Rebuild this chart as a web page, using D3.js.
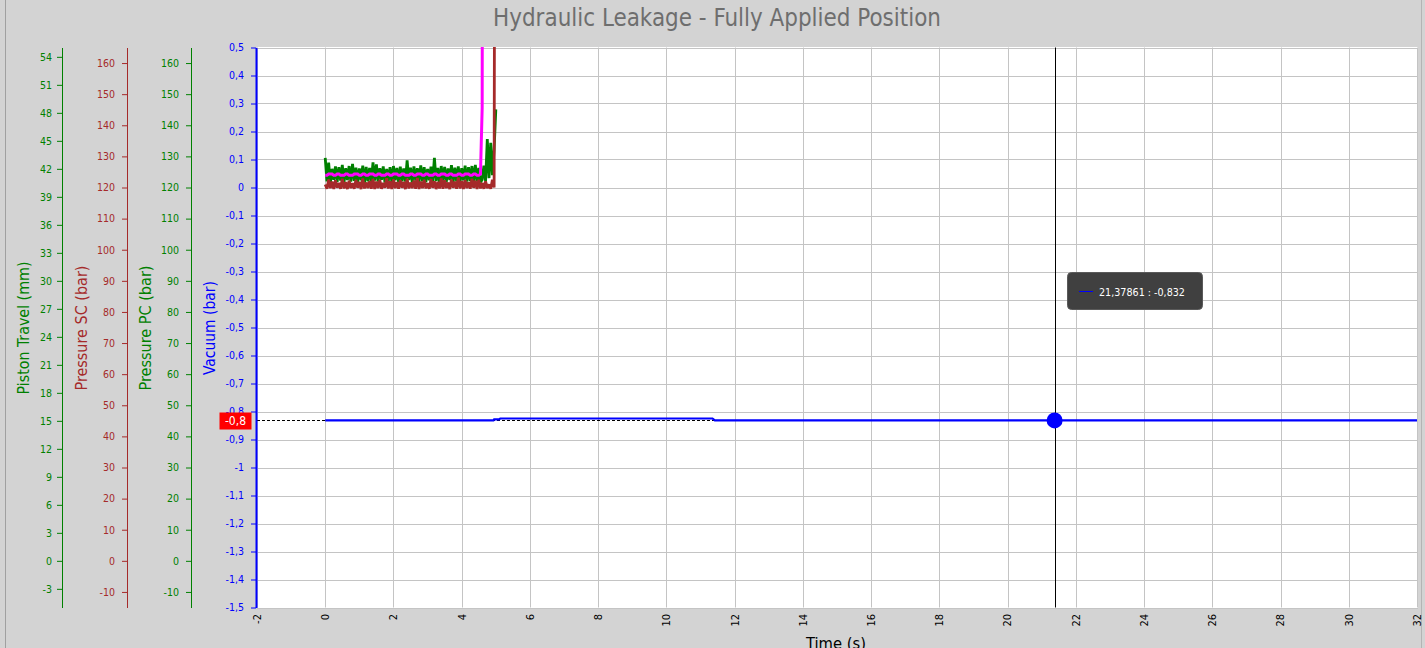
<!DOCTYPE html>
<html><head><meta charset="utf-8">
<script src="https://cdn.jsdelivr.net/npm/d3@7"></script>
<style>
html,body{margin:0;padding:0;background:#d3d3d3;overflow:hidden;}
svg{display:block;}
text{font-family:"DejaVu Sans Condensed","DejaVu Sans",sans-serif;font-stretch:condensed;}
</style></head><body>
<svg id="c" width="1425" height="648"></svg>
<script>
// ---------------- DATA ----------------
const chartTitle = "Hydraulic Leakage - Fully Applied Position";
const xTitle = "Time (s)";
const xTickValues = [-2,0,2,4,6,8,10,12,14,16,18,20,22,24,26,28,30,32];
const vacuumTickValues = [0.5,0.4,0.3,0.2,0.1,0,-0.1,-0.2,-0.3,-0.4,-0.5,-0.6,-0.7,-0.8,-0.9,-1,-1.1,-1.2,-1.3,-1.4,-1.5];
const pressureTickValues = [-10,0,10,20,30,40,50,60,70,80,90,100,110,120,130,140,150,160];
const pistonTickValues = [-3,0,3,6,9,12,15,18,21,24,27,30,33,36,39,42,45,48,51,54];

// sampled signals (sample step 0.05 s, starting at t = 0)
const sampleStep = 0.05;
// Pressure PC (bar) - green
const pressurePC = [
129.5,122.0,128.0,121.5,126.0,122.5,126.8,121.8,126.5,122.2,
127.3,121.6,126.2,122.4,126.9,121.9,127.6,122.1,126.4,121.7,
126.1,122.3,127.0,121.5,126.6,122.0,126.3,121.8,128.1,122.2,
127.4,121.9,126.2,122.5,126.8,121.6,126.0,122.1,126.5,121.8,
126.9,122.3,126.3,121.7,126.7,122.0,126.1,121.9,128.7,122.4,
126.4,121.6,126.8,122.2,126.2,121.8,127.1,122.0,126.5,121.7,
126.0,122.3,126.7,121.9,129.5,122.1,126.3,121.5,126.9,122.2,
126.6,121.8,126.1,122.4,127.2,121.7,126.4,122.0,126.8,121.6,
126.2,122.3,127.0,121.9,126.5,122.1,126.9,121.8,127.3,122.0,
126.3,121.7,
122.5,127.0,122.0,135.6,123.0,134.4,124.0,132.3,145.1];
// Pressure SC (bar) - brown
const pressureSC = [
121.0,119.6,122.6,119.8,121.9,119.5,122.3,119.9,121.5,119.6,
122.8,119.7,121.7,119.5,122.2,119.8,121.4,119.6,122.5,119.9,
121.8,119.5,122.9,119.7,121.6,119.8,122.1,119.6,122.7,119.5,
121.9,119.8,122.4,119.6,121.5,119.9,123.0,119.7,122.0,119.5,
122.6,119.8,121.7,119.6,122.3,119.9,121.8,119.5,122.8,119.7,
121.6,119.8,122.2,119.6,123.1,119.5,121.9,119.8,122.5,119.7,
121.4,119.6,122.7,119.9,122.0,119.5,121.8,119.7,122.9,119.6,
122.3,119.8,121.6,119.5,122.6,119.9,121.9,119.6,123.2,119.7,
122.1,119.5,122.4,119.8,121.7,119.6,122.8,119.9,122.2,119.5,
122.5,119.7,
121.5,119.6,122.0,119.8,121.0,119.6,122.5,120.0,400];
// Piston Travel (mm) - magenta
const pistonTravel = [
41.30,41.30,41.44,41.44,41.44,41.30,41.30,41.44,41.44,41.30,
41.30,41.30,41.44,41.44,41.30,41.30,41.30,41.44,41.44,41.44,
41.30,41.30,41.44,41.44,41.30,41.30,41.44,41.44,41.44,41.30,
41.30,41.44,41.44,41.30,41.30,41.30,41.44,41.44,41.30,41.30,
41.44,41.44,41.44,41.30,41.30,41.44,41.44,41.30,41.30,41.30,
41.44,41.44,41.30,41.30,41.44,41.44,41.44,41.30,41.30,41.44,
41.44,41.30,41.30,41.30,41.44,41.44,41.30,41.30,41.44,41.44,
41.44,41.30,41.30,41.44,41.44,41.30,41.30,41.30,41.44,41.44,
41.30,41.30,41.44,41.44,41.44,41.30,41.30,41.44,41.44,41.30,
41.30,41.44,
48.55,200];
// Vacuum (bar) - blue
const vacuumTimes  = [0, 4.93, 4.95, 5.1, 5.13, 11.35, 11.42, 32];
const vacuumValues = [-0.832, -0.832, -0.828, -0.828, -0.825, -0.825, -0.832, -0.832];
// cursor
const cursorTime = 21.37861;
const cursorValue = -0.832;
const cursorText = "21,37861 : -0,832";
const cursorAxisText = "-0,8";

// ---------------- LAYOUT ----------------
const svg = d3.select("#c");
const L = 257, R = 1417, T = 47.5, B = 607.5;
const x = d3.scaleLinear().domain([-2, 32]).range([L, R]);
const yVac = d3.scaleLinear().domain([-1.5, 0.5]).range([B, T]);
const yPress = d3.scaleLinear().domain([-15, 165]).range([B, T]);
const yPiston = d3.scaleLinear().domain([-5, 55]).range([B, T]);
const fmt = d => String(Math.round(d * 10) / 10).replace(".", ",");

function fit(sel, target) {
  const w = sel.node().getComputedTextLength();
  const fs = parseFloat(sel.attr("font-size"));
  sel.attr("font-size", fs * target / w);
}

// borders
svg.append("line").attr("x1", 5.5).attr("x2", 5.5).attr("y1", 0).attr("y2", 648).attr("stroke", "#a0a0a0");
svg.append("line").attr("x1", 1421.5).attr("x2", 1421.5).attr("y1", 0).attr("y2", 648).attr("stroke", "#b4b4b4");

// title
const title = svg.append("text").attr("x", 717).attr("y", 26).attr("text-anchor", "middle")
  .attr("font-size", 22).attr("fill", "#6e6e6e").text(chartTitle);
fit(title, 448);

// plot background
svg.append("rect").attr("x", L).attr("y", T - 0.5).attr("width", 1418 - L).attr("height", B - T + 1).attr("fill", "#fff");

// grid
const grid = svg.append("g").attr("stroke", "#c4c4c4").attr("stroke-width", 1);
grid.selectAll(".gx").data(xTickValues).join("line")
  .attr("x1", d => Math.round(x(d)) + 0.5).attr("x2", d => Math.round(x(d)) + 0.5)
  .attr("y1", T).attr("y2", B);
grid.selectAll(".gy").data(vacuumTickValues).join("line")
  .attr("y1", d => Math.round(yVac(d)) + 0.5).attr("y2", d => Math.round(yVac(d)) + 0.5)
  .attr("x1", L).attr("x2", 1418);

// clip
svg.append("clipPath").attr("id", "clip").append("rect")
  .attr("x", L).attr("y", T - 0.5).attr("width", 1418 - L).attr("height", B - T + 1);
const plot = svg.append("g").attr("clip-path", "url(#clip)");

function sampled(vals, ys) {
  return d3.line().x((d, i) => x(i * sampleStep)).y(d => ys(d))(vals);
}
plot.append("path").attr("d", sampled(pressurePC, yPress)).attr("fill", "none")
  .attr("stroke", "#008000").attr("stroke-width", 2.8).attr("stroke-linejoin", "bevel");
plot.append("path").attr("d", sampled(pressureSC, yPress)).attr("fill", "none")
  .attr("stroke", "#a52a2a").attr("stroke-width", 2.8).attr("stroke-linejoin", "bevel");
plot.append("path").attr("d", sampled(pistonTravel, yPiston)).attr("fill", "none")
  .attr("stroke", "#ff00ff").attr("stroke-width", 3);

// cursor dashed reference
const cx = x(cursorTime), cy = yVac(cursorValue);
plot.append("line").attr("x1", L).attr("x2", cx).attr("y1", Math.round(cy) + 0.5).attr("y2", Math.round(cy) + 0.5)
  .attr("stroke", "#000").attr("stroke-dasharray", "3,2");

const vacLine = d3.line().x((d, i) => x(vacuumTimes[i])).y(d => yVac(d));
plot.append("path").attr("d", vacLine(vacuumValues)).attr("fill", "none")
  .attr("stroke", "#0000ff").attr("stroke-width", 2.2);

// crosshair
plot.append("line").attr("x1", Math.round(cx) + 0.5).attr("x2", Math.round(cx) + 0.5).attr("y1", T).attr("y2", B)
  .attr("stroke", "#000").attr("stroke-width", 1);
plot.append("circle").attr("cx", cx).attr("cy", cy).attr("r", 8).attr("fill", "#0000ff");

// tooltip
const tip = svg.append("g");
tip.append("rect").attr("x", 1067.5).attr("y", 272.5).attr("width", 135).attr("height", 37).attr("rx", 4)
  .attr("fill", "#404040").attr("stroke", "#5a5a5a");
tip.append("line").attr("x1", 1079).attr("x2", 1093).attr("y1", 291.5).attr("y2", 291.5).attr("stroke", "#0000ff");
const tt = tip.append("text").attr("x", 1099).attr("y", 296).attr("font-size", 11).attr("fill", "#fff")
  .style("font-stretch", "normal").attr("font-family", "'DejaVu Sans',sans-serif").text(cursorText);
fit(tt, 86);

// axes
function makeAxis(scale, ticks, minorTicks, xPos, color, pad, label, labelX, labelW, strokeW) {
  const g = svg.append("g").attr("transform", `translate(${xPos},0)`);
  g.call(d3.axisLeft(scale).tickValues(minorTicks).tickSize(3).tickSizeOuter(0).tickFormat(""));
  g.call(d3.axisLeft(scale).tickValues(ticks).tickSize(5).tickSizeOuter(0).tickPadding(pad).tickFormat(fmt));
  g.selectAll("path.domain").attr("stroke", color).attr("stroke-width", strokeW);
  g.selectAll(".tick line").attr("stroke", color);
  g.selectAll(".tick text").attr("fill", color).attr("font-size", 10.5)
    .attr("font-family", "'DejaVu Sans Condensed','DejaVu Sans',sans-serif");
  svg.append("text").attr("transform", `translate(${labelX},328) rotate(-90)`)
    .attr("text-anchor", "middle").attr("dy", "0.35em").attr("font-size", 15.5).attr("fill", color)
    .attr("textLength", labelW).attr("lengthAdjust", "spacingAndGlyphs").text(label);
}
const pistonMinor = d3.range(0, 61).map(i => -5 + i);
const pressMinor = d3.range(0, 54).map(i => -13.3333 + i * 10 / 3).filter(v => v <= 165);
const vacMinor = d3.range(0, 61).map(i => -1.5 + i / 30);
makeAxis(yPiston, pistonTickValues, pistonMinor, 62, "#008000", 5, "Piston Travel (mm)", 24, 133, 1);
makeAxis(yPress, pressureTickValues, pressMinor, 127, "#a52a2a", 7, "Pressure SC (bar)", 82, 125, 1);
makeAxis(yPress, pressureTickValues, pressMinor, 191, "#008000", 7, "Pressure PC (bar)", 146, 125, 1);
makeAxis(yVac, vacuumTickValues, vacMinor, 256, "#0000ff", 7, "Vacuum (bar)", 210, 94, 2);

// x tick labels (rotated)
const xl = svg.append("g");
xl.selectAll("text").data(xTickValues).join("text")
  .attr("transform", d => `translate(${x(d)},614) rotate(-90)`)
  .attr("text-anchor", "end").attr("dy", "0.35em").attr("font-size", 11).attr("fill", "#000")
  .attr("font-family", "'DejaVu Sans',sans-serif").style("font-stretch", "normal").text(fmt);
const xt = svg.append("text").attr("x", 836).attr("y", 649).attr("text-anchor", "middle")
  .attr("font-size", 14).attr("fill", "#000").text(xTitle);
fit(xt, 60);

// red axis cursor label
svg.append("rect").attr("x", 219.5).attr("y", 412.5).attr("width", 32).attr("height", 17).attr("fill", "#ff0000");
svg.append("text").attr("x", 235.5).attr("y", 421).attr("dy", "0.36em").attr("text-anchor", "middle")
  .attr("font-size", 12).attr("fill", "#fff").attr("font-family", "'DejaVu Sans',sans-serif")
  .style("font-stretch", "normal").text(cursorAxisText);
</script>
</body></html>
